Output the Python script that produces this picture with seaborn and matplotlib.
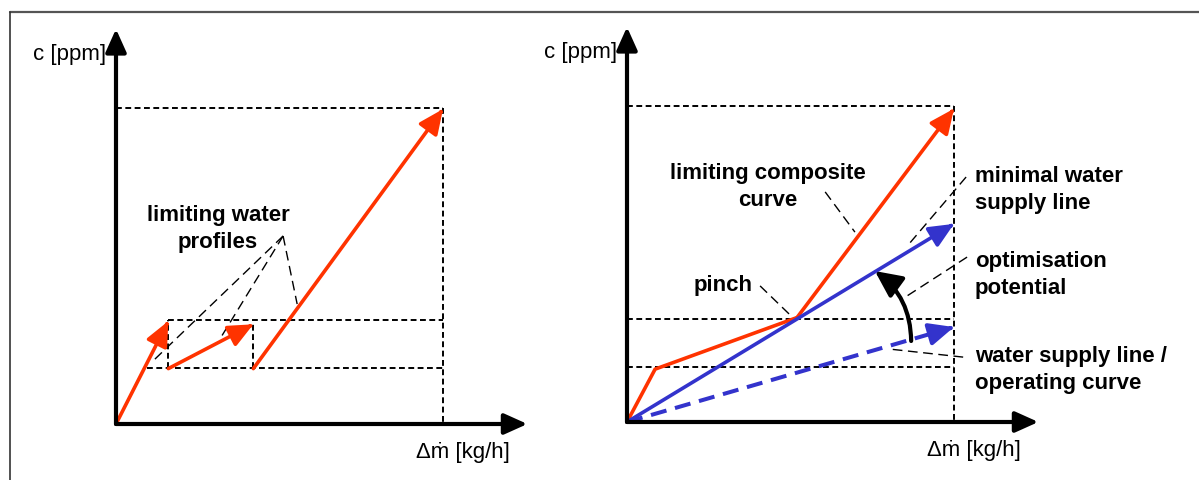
import numpy as np
import matplotlib
matplotlib.use("Agg")
import matplotlib.pyplot as plt
import pandas as pd
import seaborn as sns

sns.set_style("white")
plt.rcParams['font.family'] = ['Liberation Sans', 'DejaVu Sans']
plt.rcParams['text.color'] = 'black'

# ---- data (delta m [kg/h] in % of total, c [ppm] in % of max) ----
# left: limiting water profiles of three operations
op_dm_in = [0, 16, 42]
op_dm_out = [16, 42, 100]
op_c_in = [0, 17.5, 17.5]
op_c_out = [32.5, 31.5, 99.5]

# left guide lines (x0, x1, y0, y1)
guides_left = [
    (0, 100, 100, 100), (100, 100, 100, 0),
    (16, 100, 32.9, 32.9), (9.5, 100, 17.7, 17.7),
    (16, 16, 17.7, 32.9), (42, 42, 17.7, 31.6),
]

# right: limiting composite curve and water supply lines
comp_dm = [0, 8.6, 52, 100]
comp_c = [0, 16.7, 33, 99]
min_supply_dm = [0, 100]
min_supply_c = [0, 62.6]
op_supply_dm = [0, 100]
op_supply_c = [0, 30]

guides_right = [
    (0, 100, 100, 100), (100, 100, 100, 0),
    (0, 100, 32.5, 32.5), (0, 100, 17.4, 17.4),
]

# annotation leaders: (text end, target)
leaders_left = [((51.1, 59.4), (11.9, 20.5)), ((51.1, 59.4), (31.8, 26.9)),
                ((51.1, 59.4), (55.4, 37.9))]
leaders_right = [((60.6, 72.7), (69.7, 60.0)), ((40.7, 43.0), (50.2, 33.5)),
                 ((103.7, 77.4), (86.2, 56.2)), ((104.0, 52.1), (85.6, 39.8)),
                 ((102.8, 20.5), (79.8, 23.1))]

RED = "#ff3300"
BLUE = "#3333cc"
SX, SY = 3.27, 3.165   # pixels per unit

fig = plt.figure(figsize=(11.99, 4.81), dpi=100)
axL = fig.add_axes([0, 0, 600 / 1199, 1])
axR = fig.add_axes([600 / 1199, 0, 599 / 1199, 1])


def place(ax, x0, x1, ox, oy):
    ax.set_xlim((x0 - ox) / SX, (x1 - ox) / SX)
    ax.set_ylim((oy - 481) / SY, oy / SY)
    ax.axis('off')


place(axL, 0, 600, 116, 425)
place(axR, 600, 1199, 627, 423)


def line(ax, xs, ys, **kw):
    d = pd.DataFrame({"x": xs, "y": ys})
    sns.lineplot(data=d, x="x", y="y", ax=ax, estimator=None, sort=False,
                 legend=False, **kw)


def arrow(ax, p0, p1, color, lw=2.6, ls='-', hl=1.15, hw=0.52, ms=13):
    p0, p1 = np.array(p0, float), np.array(p1, float)
    seg = p1 - p0
    px = np.hypot(seg[0] * SX, seg[1] * SY)
    end = p1 - seg * (10 / px)
    line(ax, [p0[0], end[0]], [p0[1], end[1]], color=color, lw=lw, linestyle=ls)
    back = p1 - seg * (4 / px)
    ax.annotate("", xy=p1, xytext=back,
                arrowprops=dict(arrowstyle=f'-|>,head_length={hl},head_width={hw}',
                                color=color, lw=lw, shrinkA=0, shrinkB=0,
                                mutation_scale=ms))


def axes_arrows(ax):
    for tip in [(0, 124.8), (125.8, 0)]:
        ax.annotate("", xy=tip, xytext=(0, 0),
                    arrowprops=dict(arrowstyle='-|>,head_length=1.0,head_width=0.45',
                                    color='black', lw=3, shrinkA=0, shrinkB=0,
                                    mutation_scale=14))
    ax.text(-3.1, 117.2, "c [ppm]", ha='right', va='center', fontsize=16)
    ax.text(106.2, -8.8, "Δṁ [kg/h]", ha='center', va='center', fontsize=16)


for ax, guides in [(axL, guides_left), (axR, guides_right)]:
    for x0, x1, y0, y1 in guides:
        line(ax, [x0, x1], [y0, y1], color='black', lw=1.4, linestyle=(0, (3, 1.8)))

for ax, leaders in [(axL, leaders_left), (axR, leaders_right)]:
    for a, b in leaders:
        line(ax, [a[0], b[0]], [a[1], b[1]], color='black', lw=1.0, linestyle=(0, (7, 4)))

# left panel
for i in range(3):
    arrow(axL, (op_dm_in[i], op_c_in[i]), (op_dm_out[i], op_c_out[i]), RED)
axes_arrows(axL)

bold = dict(fontsize=16, fontweight='bold', linespacing=1.4, va='center')
axL.text(31.2, 61.9, "limiting water\nprofiles", ha='center', **bold)

# right panel
line(axR, comp_dm[:-1], comp_c[:-1], color=RED, lw=2.6)
arrow(axR, (comp_dm[-2], comp_c[-2]), (comp_dm[-1], comp_c[-1]), RED)
arrow(axR, (min_supply_dm[0], min_supply_c[0]), (min_supply_dm[1], min_supply_c[1]), BLUE)
arrow(axR, (op_supply_dm[0], op_supply_c[0]), (op_supply_dm[1], op_supply_c[1]), BLUE,
      lw=2.9, ls=(0, (4, 2.2)))
axR.annotate("", xy=(75.8, 47.7), xytext=(86.9, 25.6),
             arrowprops=dict(arrowstyle='-|>,head_length=1.15,head_width=0.55',
                             color='black', lw=3, shrinkA=0, shrinkB=0,
                             mutation_scale=14, connectionstyle="arc3,rad=0.25"))
axes_arrows(axR)

axR.text(43.1, 74.6, "limiting composite\ncurve", ha='center', **bold)
axR.text(29.4, 43.6, "pinch", ha='center', **bold)
axR.text(106.4, 73.6, "minimal water\nsupply line", ha='left', **bold)
axR.text(106.4, 46.8, "optimisation\npotential", ha='left', **bold)
axR.text(106.4, 16.7, "water supply line /\noperating curve", ha='left', **bold)

# frame around the figure
fig.add_artist(plt.Line2D([10 / 1199, 1], [1 - 13 / 481] * 2, color='#555555', lw=1.6))
fig.add_artist(plt.Line2D([10 / 1199] * 2, [0, 1 - 13 / 481], color='#333333', lw=1.2))

fig.savefig("out.png", dpi=100)
